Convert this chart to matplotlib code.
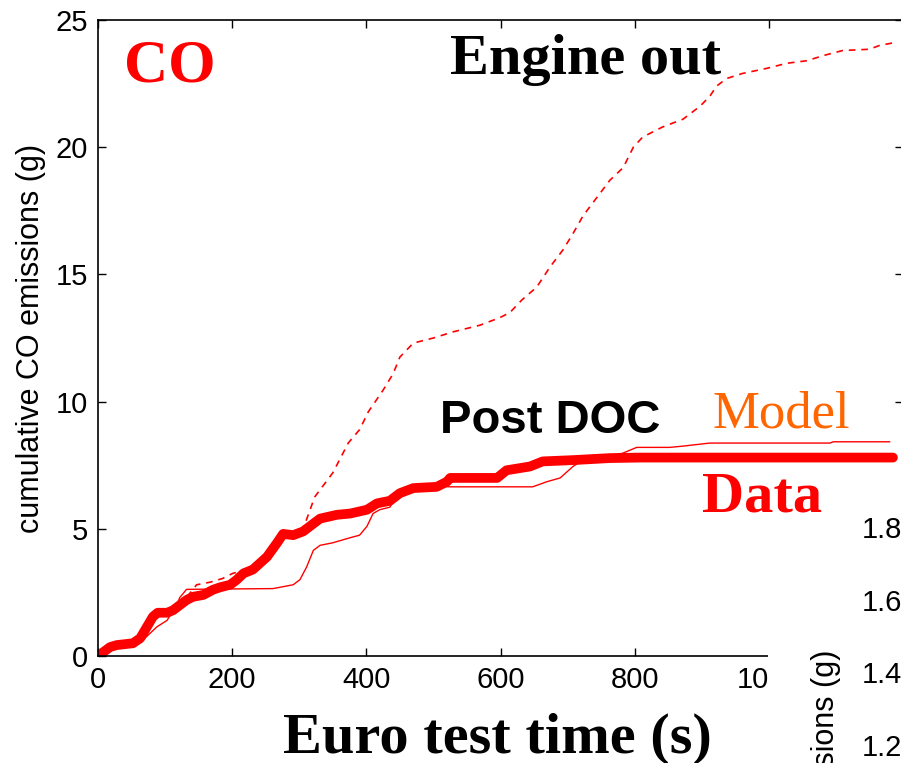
import matplotlib.pyplot as plt
from matplotlib.patches import Rectangle

# cumulative CO over the Euro test cycle
t_engine = [0, 18, 52, 73, 89, 112, 132, 147, 167, 186, 201, 231, 252, 267, 276, 291, 303, 310,
            323, 350, 373, 390, 403, 425, 440, 450, 470, 500, 529, 569, 599, 614, 632, 654, 674,
            693, 708, 723, 743, 763, 783, 798, 812, 842, 872, 897, 912, 922, 937, 961, 997,
            1027, 1057, 1081, 1110, 1150, 1165, 1185]
co_engine = [0, 0.35, 0.5, 1.15, 1.7, 1.8, 2.3, 2.8, 2.9, 3.05, 3.25, 3.45, 3.9, 4.45, 4.8, 4.8,
             4.95, 5.3, 6.25, 7.2, 8.37, 8.9, 9.6, 10.45, 11.1, 11.75, 12.3, 12.5, 12.74, 13.0,
             13.3, 13.5, 14.0, 14.5, 15.3, 15.96, 16.6, 17.3, 18.0, 18.7, 19.2, 20.0, 20.4,
             20.8, 21.1, 21.6, 22.0, 22.4, 22.7, 22.9, 23.1, 23.3, 23.4, 23.6, 23.8, 23.85,
             24.0, 24.1]

t_model = [0, 20, 50, 67, 88, 103, 118, 122, 132, 261, 291, 301, 311, 321, 331, 350, 376, 390,
           401, 410, 420, 435, 445, 470, 495, 525, 648, 669, 689, 708, 723, 782, 803, 852, 872,
           912, 1091, 1096, 1180]
co_model = [0, 0.3, 0.45, 0.63, 1.15, 1.4, 2.05, 2.3, 2.62, 2.65, 2.8, 3.0, 3.5, 4.15, 4.35,
            4.45, 4.65, 4.75, 5.1, 5.6, 5.75, 5.85, 6.25, 6.55, 6.68, 6.65, 6.65, 6.85, 7.0,
            7.45, 7.7, 7.97, 8.2, 8.2, 8.25, 8.37, 8.37, 8.42, 8.42]

t_data = [0, 18, 28, 52, 63, 73, 82, 89, 103, 112, 122, 132, 142, 157, 171, 182, 197, 207, 217,
          231, 252, 267, 276, 291, 306, 321, 331, 356, 376, 401, 416, 435, 450, 470, 505, 520,
          525, 595, 609, 644, 663, 708, 763, 808, 1185]
co_data = [0, 0.35, 0.43, 0.5, 0.7, 1.15, 1.55, 1.7, 1.7, 1.8, 2.0, 2.2, 2.33, 2.4, 2.6, 2.7,
           2.8, 3.0, 3.25, 3.4, 3.9, 4.45, 4.8, 4.75, 4.9, 5.2, 5.4, 5.55, 5.6, 5.75, 6.0, 6.1,
           6.4, 6.6, 6.65, 6.85, 7.0, 7.0, 7.3, 7.45, 7.65, 7.7, 7.78, 7.8, 7.8]

x_ticks = [0, 200, 400, 600, 800, 1000]
y_ticks = [0, 5, 10, 15, 20, 25]
side_ticks = [1.2, 1.4, 1.6, 1.8]

W, H = 901, 763
fig = plt.figure(figsize=(W / 100, H / 100), dpi=100)
fig.patch.set_facecolor('white')

def px(x, y):
    # pixel position (from top-left) to figure fraction
    return x / W, 1 - y / H

sans = 'Liberation Sans'
serif = 'Liberation Serif'

ax = fig.add_axes([98 / W, 107 / H, 805 / W, 636 / H])
ax.plot(t_engine, co_engine, color='red', lw=1.2, linestyle=(0, (4, 3.5)))
ax.plot(t_model, co_model, color='red', lw=1.0)
ax.plot(t_data, co_data, color='red', lw=7, solid_capstyle='round', solid_joinstyle='round')

ax.set_xlim(0, 1200)
ax.set_ylim(0, 25)
ax.set_xticks(x_ticks)
ax.set_yticks(y_ticks)
ax.tick_params(direction='in', length=6, width=1, top=True, right=True, pad=7,
               labelsize=21, labelfontfamily=sans)
for s in ax.spines.values():
    s.set_linewidth(1.2)
ax.set_ylabel('cumulative CO emissions (g)', fontsize=22, family=sans)
ax.yaxis.set_label_coords(-0.064, 0.5)

# neighbouring panel peeking in at the lower right
fig.add_artist(Rectangle(px(768, 763), (W - 768) / W, (763 - 470) / H, transform=fig.transFigure,
                         facecolor='white', edgecolor='none', zorder=2))
ax2 = fig.add_axes([906 / W, -54.7 / H, 0.3, 363.5 / H], zorder=3)
ax2.set_ylim(1.0, 2.0)
ax2.set_yticks(side_ticks)
ax2.set_xticks([])
ax2.tick_params(direction='in', length=6, pad=3, labelsize=21, labelfontfamily=sans)
fig.text(*px(826, 650), 'cumulative HC emissions (g)', rotation=90, ha='center', va='top',
         fontsize=22, family=sans, zorder=4)

# slide annotations
fig.text(*px(124, 82), 'CO', color='red', fontsize=44, fontweight='bold', family=serif, zorder=5)
fig.text(*px(450, 74), 'Engine out', color='black', fontsize=42, fontweight='bold', family=serif, zorder=5)
fig.text(*px(440, 433), 'Post DOC', color='black', fontsize=34, fontweight='bold', family=sans, zorder=5)
fig.text(*px(713, 427), 'Model', color='#ff6600', fontsize=38, family=serif, zorder=5)
fig.text(*px(702, 512), 'Data', color='red', fontsize=42, fontweight='bold', family=serif, zorder=5)
fig.text(*px(283, 753), 'Euro test time (s)', color='black', fontsize=42, fontweight='bold',
         family=serif, zorder=5)

fig.savefig('out.png', dpi=100)
